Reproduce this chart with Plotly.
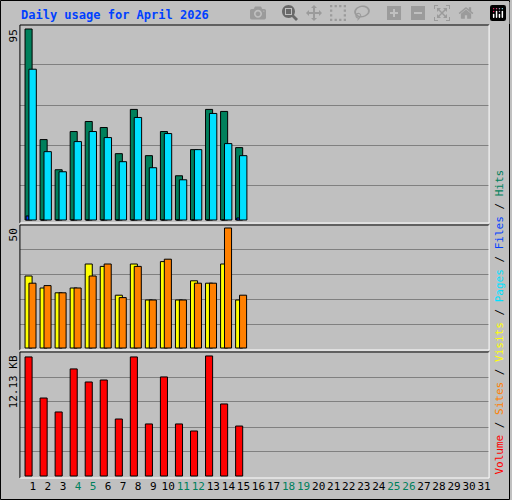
import plotly.graph_objects as go
from plotly.subplots import make_subplots

days = list(range(1, 32))
data_days = list(range(1, 16))
hits = [95, 40, 25, 44, 49, 46, 33, 55, 32, 44, 22, 35, 55, 54, 36]
files = [2, 0, 0, 0, 0, 0, 0, 0, 0, 0, 0, 0, 0, 0, 1]
pages = [75, 34, 24, 39, 44, 41, 29, 51, 26, 43, 20, 35, 53, 38, 32]
visits = [30, 25, 23, 25, 35, 34, 22, 35, 20, 36, 20, 28, 27, 35, 20]
sites = [27, 26, 23, 25, 30, 35, 21, 34, 20, 37, 20, 27, 27, 50, 22]
volume_kb = [12.03, 7.88, 6.47, 10.82, 9.50, 9.70, 5.76, 12.03, 5.26, 10.01, 5.26, 4.55, 12.13, 7.28, 5.05]
weekend = [4, 5, 11, 12, 18, 19, 25, 26]

W, H = 512, 500
def px(x): return x / W
def py(y): return 1 - y / H

fig = make_subplots(rows=3, cols=1, shared_xaxes=True)
line = dict(color="black", width=1)
def bar(y, color, off, wid, row):
    fig.add_trace(go.Bar(x=data_days, y=y, marker=dict(color=color, line=line),
                         offset=off, width=wid, showlegend=False), row=row, col=1)

bar(hits, "#00805c", -0.52, 0.47, 1)
bar(files, "#0040ff", -0.45, 0.2, 1)
bar(pages, "#00e0ff", -0.26, 0.49, 1)
bar(visits, "#ffff00", -0.52, 0.47, 2)
bar(sites, "#ff8000", -0.26, 0.47, 2)
bar(volume_kb, "#ff0000", -0.52, 0.47, 3)

xd = [px(20), px(491)]
ticktext = [f"<span style='color:#00805c'>{d}</span>" if d in weekend else str(d) for d in days]
for i in (1, 2, 3):
    fig.update_xaxes(domain=xd, range=[0.14, 31.33], showgrid=False, zeroline=False,
                     showticklabels=(i == 3), row=i, col=1)
fig.update_xaxes(tickvals=days, ticktext=ticktext, ticks="", tickangle=0, row=3, col=1,
                 tickfont=dict(family="DejaVu Sans Mono", size=11, color="black"))

ycfg = [
    ([py(223), py(25)], [-1.49, 96.99], [77.1, 57.2, 37.3, 17.4]),
    ([py(350), py(225)], [-0.83, 51.25], [41.25, 30.8, 20.4, 10.0]),
    ([py(478), py(352)], [-0.2, 12.53], [10.0, 7.48, 4.95, 2.43]),
]
for i, (dom, rng, grid) in enumerate(ycfg, start=1):
    fig.update_yaxes(domain=dom, range=rng, tickvals=grid, showticklabels=False,
                     gridcolor="#808080", gridwidth=1, zeroline=False, row=i, col=1)

shapes = [dict(type="rect", xref="paper", yref="paper", x0=px(0.5), x1=px(511.5),
               y0=py(499.5), y1=py(0.5), line=dict(color="black", width=1))]
for top, bot in [(25, 223), (225, 350), (352, 478)]:
    shapes += [
        dict(type="line", xref="paper", yref="paper", x0=px(20), x1=px(491), y0=py(top), y1=py(top), line=dict(color="black", width=1)),
        dict(type="line", xref="paper", yref="paper", x0=px(20), x1=px(20), y0=py(top), y1=py(bot), line=dict(color="black", width=1)),
        dict(type="line", xref="paper", yref="paper", x0=px(20), x1=px(491), y0=py(bot), y1=py(bot), line=dict(color="white", width=1)),
        dict(type="line", xref="paper", yref="paper", x0=px(491), x1=px(491), y0=py(top), y1=py(bot), line=dict(color="white", width=1)),
    ]

mono = "DejaVu Sans Mono"
ann = [
    dict(text="<b>Daily usage for April 2026</b>", x=px(19), y=py(15), xanchor="left", yanchor="middle",
         font=dict(family=mono, size=12, color="#0040ff")),
    dict(text="95", x=px(14), y=py(27), xanchor="center", yanchor="top", textangle=-90,
         font=dict(family=mono, size=11, color="black")),
    dict(text="50", x=px(14), y=py(226), xanchor="center", yanchor="top", textangle=-90,
         font=dict(family=mono, size=11, color="black")),
    dict(text="12.13 KB", x=px(14), y=py(353), xanchor="center", yanchor="top", textangle=-90,
         font=dict(family=mono, size=11, color="black")),
    dict(text="<span style='color:#ff0000'>Volume</span> / <span style='color:#ff8000'>Sites</span> / "
              "<span style='color:#ffff00'>Visits</span> / <span style='color:#00e0ff'>Pages</span> / "
              "<span style='color:#0040ff'>Files</span> / <span style='color:#00805c'>Hits</span>",
         x=px(501), y=py(477), xanchor="center", yanchor="bottom", textangle=-90,
         font=dict(family=mono, size=11, color="black")),
]
for a in ann:
    a.update(xref="paper", yref="paper", showarrow=False)

fig.update_layout(width=W, height=H, margin=dict(l=0, r=0, t=0, b=0),
                  paper_bgcolor="#c0c0c0", plot_bgcolor="#c0c0c0", barmode="overlay",
                  shapes=shapes, annotations=ann)
fig.write_html("out.html", post_script="document.body.style.margin='0';document.body.style.overflow='hidden';")
